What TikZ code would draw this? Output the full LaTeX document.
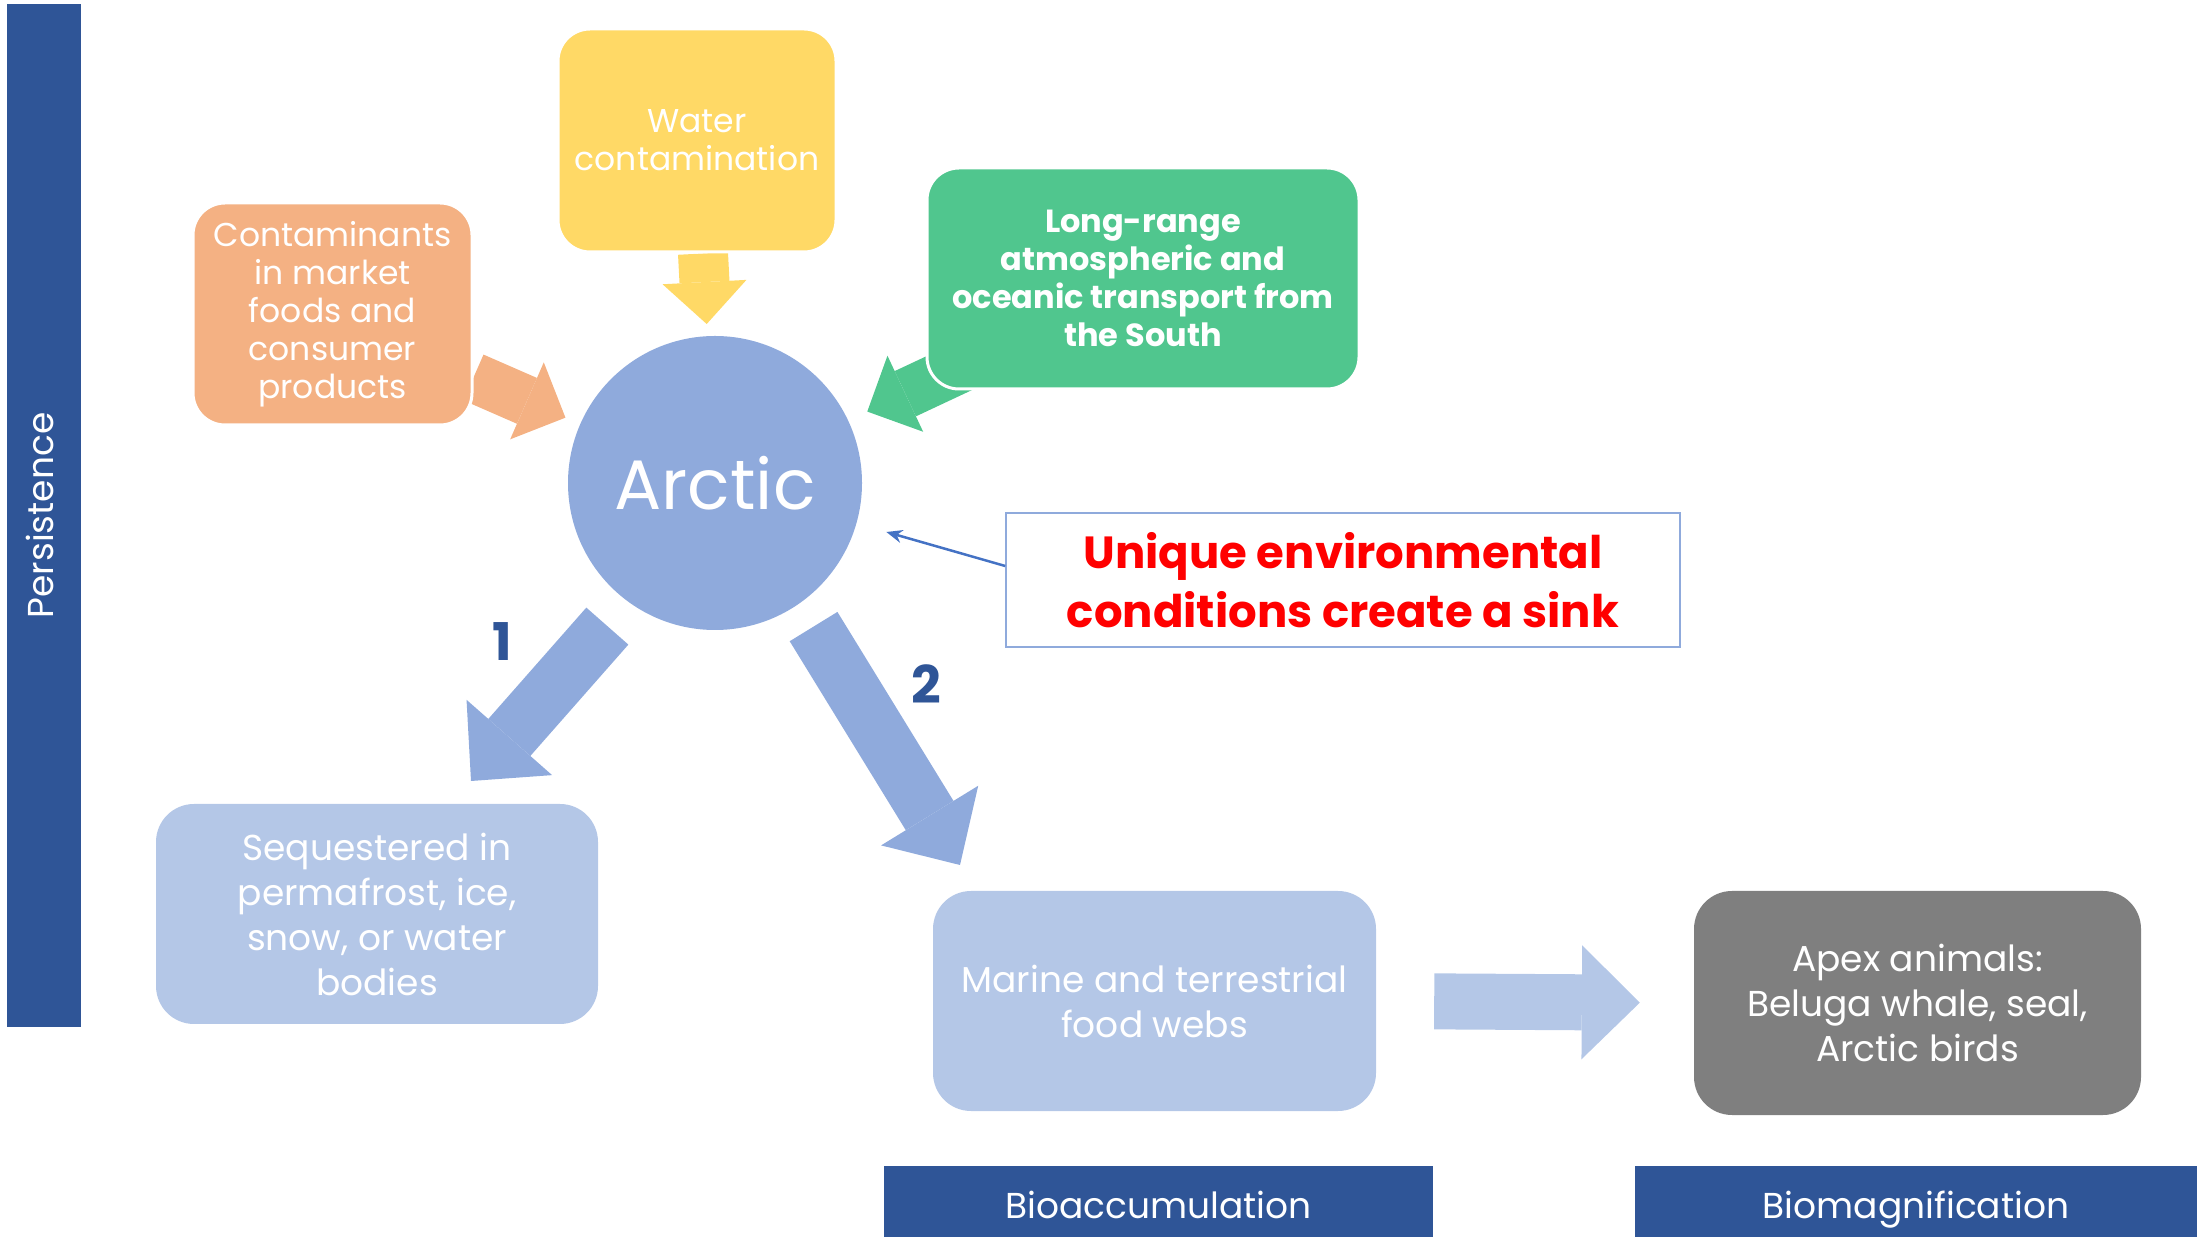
\documentclass[tikz,border=0pt]{standalone}
\usepackage{fontspec}
\setmainfont{Poppins}
\usetikzlibrary{arrows.meta,backgrounds}
\definecolor{barblue}{HTML}{2F5597}
\definecolor{arcticblue}{HTML}{8FAADC}
\definecolor{paleblue}{HTML}{B4C7E7}
\definecolor{peach}{HTML}{F4B183}
\definecolor{sunyellow}{HTML}{FFD966}
\definecolor{seagreen}{HTML}{50C68E}
\definecolor{apexgray}{HTML}{7F7F7F}
\definecolor{pointblue}{HTML}{4472C4}
\tikzstyle{line} = [draw, pointblue, line width=2.5pt, -{Stealth[length=16pt, width=13pt]}]
\tikzstyle{feed} = [draw, line width=50pt, -{Triangle[length=42pt, width=84pt, line width=0pt]}]
\tikzstyle{path_arrow} = [draw, arcticblue, line width=56pt, -{Triangle[length=58pt, width=114pt, line width=0pt]}]
\tikzstyle{source} = [rectangle, rounded corners=32pt, draw=white, line width=3pt, text=white, align=center, inner sep=0pt, minimum width=279pt, minimum height=222pt, font=\fontsize{33}{38}\selectfont]
\tikzstyle{fate} = [rectangle, rounded corners=38pt, fill=paleblue, text=white, align=center, inner sep=0pt, minimum width=443pt, minimum height=220pt, font=\fontsize{36}{45}\selectfont]
\tikzstyle{label_bar} = [rectangle, fill=barblue, text=white, inner sep=0pt, minimum height=71pt, text height=40pt, text depth=7pt, font=\fontsize{36}{40}\selectfont]
\tikzstyle{num} = [text=barblue, font=\fontsize{52}{52}\bfseries\selectfont]
\begin{document}
\begin{tikzpicture}[x=1pt, y=1pt]
	\useasboundingbox (0,0) rectangle (2197,1237);
	\node [circle, fill=arcticblue, minimum size=294pt, inner sep=0pt, text=white, font=\fontsize{70}{70}\selectfont] (arctic) at (715,754) {Arctic};
	
	\node [source, fill=sunyellow, above of=arctic, node distance=342.5pt, xshift=-18pt, minimum width=278pt, minimum height=223pt] (water) {Water\\contamination};
	\node [source, fill=peach, left of=arctic, node distance=382.5pt, yshift=169pt] (market) {Contaminants\\in market\\foods and\\consumer\\products};
	\node [source, fill=seagreen, right of=arctic, node distance=428pt, yshift=204.5pt, minimum width=432pt, minimum height=221pt, font=\fontsize{32}{38}\bfseries\selectfont] (transport) {Long-range\\atmospheric and\\oceanic transport from\\the South};
	
	\node [rectangle, draw=arcticblue, line width=1.5pt, fill=white, right of=arctic, node distance=628pt, yshift=-97pt, minimum width=674pt, minimum height=134pt, align=center, text=red, font=\fontsize{45}{59}\bfseries\selectfont] (sink) {Unique environmental\\conditions create a sink};
	
	\node [fate, below of=arctic, node distance=431pt, xshift=-338pt, minimum width=442pt] (sequestered) {Sequestered in\\permafrost, ice,\\snow, or water\\bodies};
	\node [fate, below of=arctic, node distance=518pt, xshift=439.5pt] (foodweb) {Marine and terrestrial\\food webs};
	\node [fate, fill=apexgray, right of=foodweb, node distance=763pt, yshift=-2pt, minimum width=447pt, minimum height=224pt] (apex) {Apex animals:\\Beluga whale, seal,\\Arctic birds};
	
	\node [label_bar, below of=foodweb, node distance=200.5pt, xshift=4pt, minimum width=549pt] (bioacc) {Bioaccumulation};
	\node [label_bar, below of=apex, node distance=198.5pt, xshift=-1.5pt, minimum width=562pt] (biomag) {Biomagnification};
	\node [label_bar, left of=arctic, node distance=671pt, yshift=-32.5pt, minimum width=1023pt, minimum height=74pt, text height=26pt, text depth=8pt, rotate=90] (persistence) {Persistence};
	
	\node [num, below of=arctic, node distance=159pt, xshift=-213pt] (one) {1};
	\node [num, below of=arctic, node distance=201pt, xshift=211pt] (two) {2};
	
	\coordinate [above of=sequestered, node distance=133pt, xshift=94pt] (tip1);
	\coordinate [above of=foodweb, node distance=136pt, xshift=-194.5pt] (tip2);
	
	\begin{scope}[on background layer]
	\path [feed, peach, shorten >=16pt] ([yshift=-63.5pt]market.east) to (arctic);
	\path [feed, sunyellow, shorten >=12pt] ([xshift=6pt]water.south) to (arctic);
	\path [feed, seagreen, shorten >=21pt] ([shift={(40pt,25pt)}]transport.south west) to (arctic);
	\end{scope}
	
	\path [path_arrow, shorten <=32pt] (arctic.-126) to (tip1);
	\path [path_arrow, shorten <=27pt] (arctic.-55) to (tip2);
	\path [path_arrow, paleblue, shorten <=58pt, shorten >=54pt] (foodweb.east) to (apex.west);
	\path [line, shorten >=31pt] ([yshift=14pt]sink.west) to (arctic);
\end{tikzpicture}
\end{document}
